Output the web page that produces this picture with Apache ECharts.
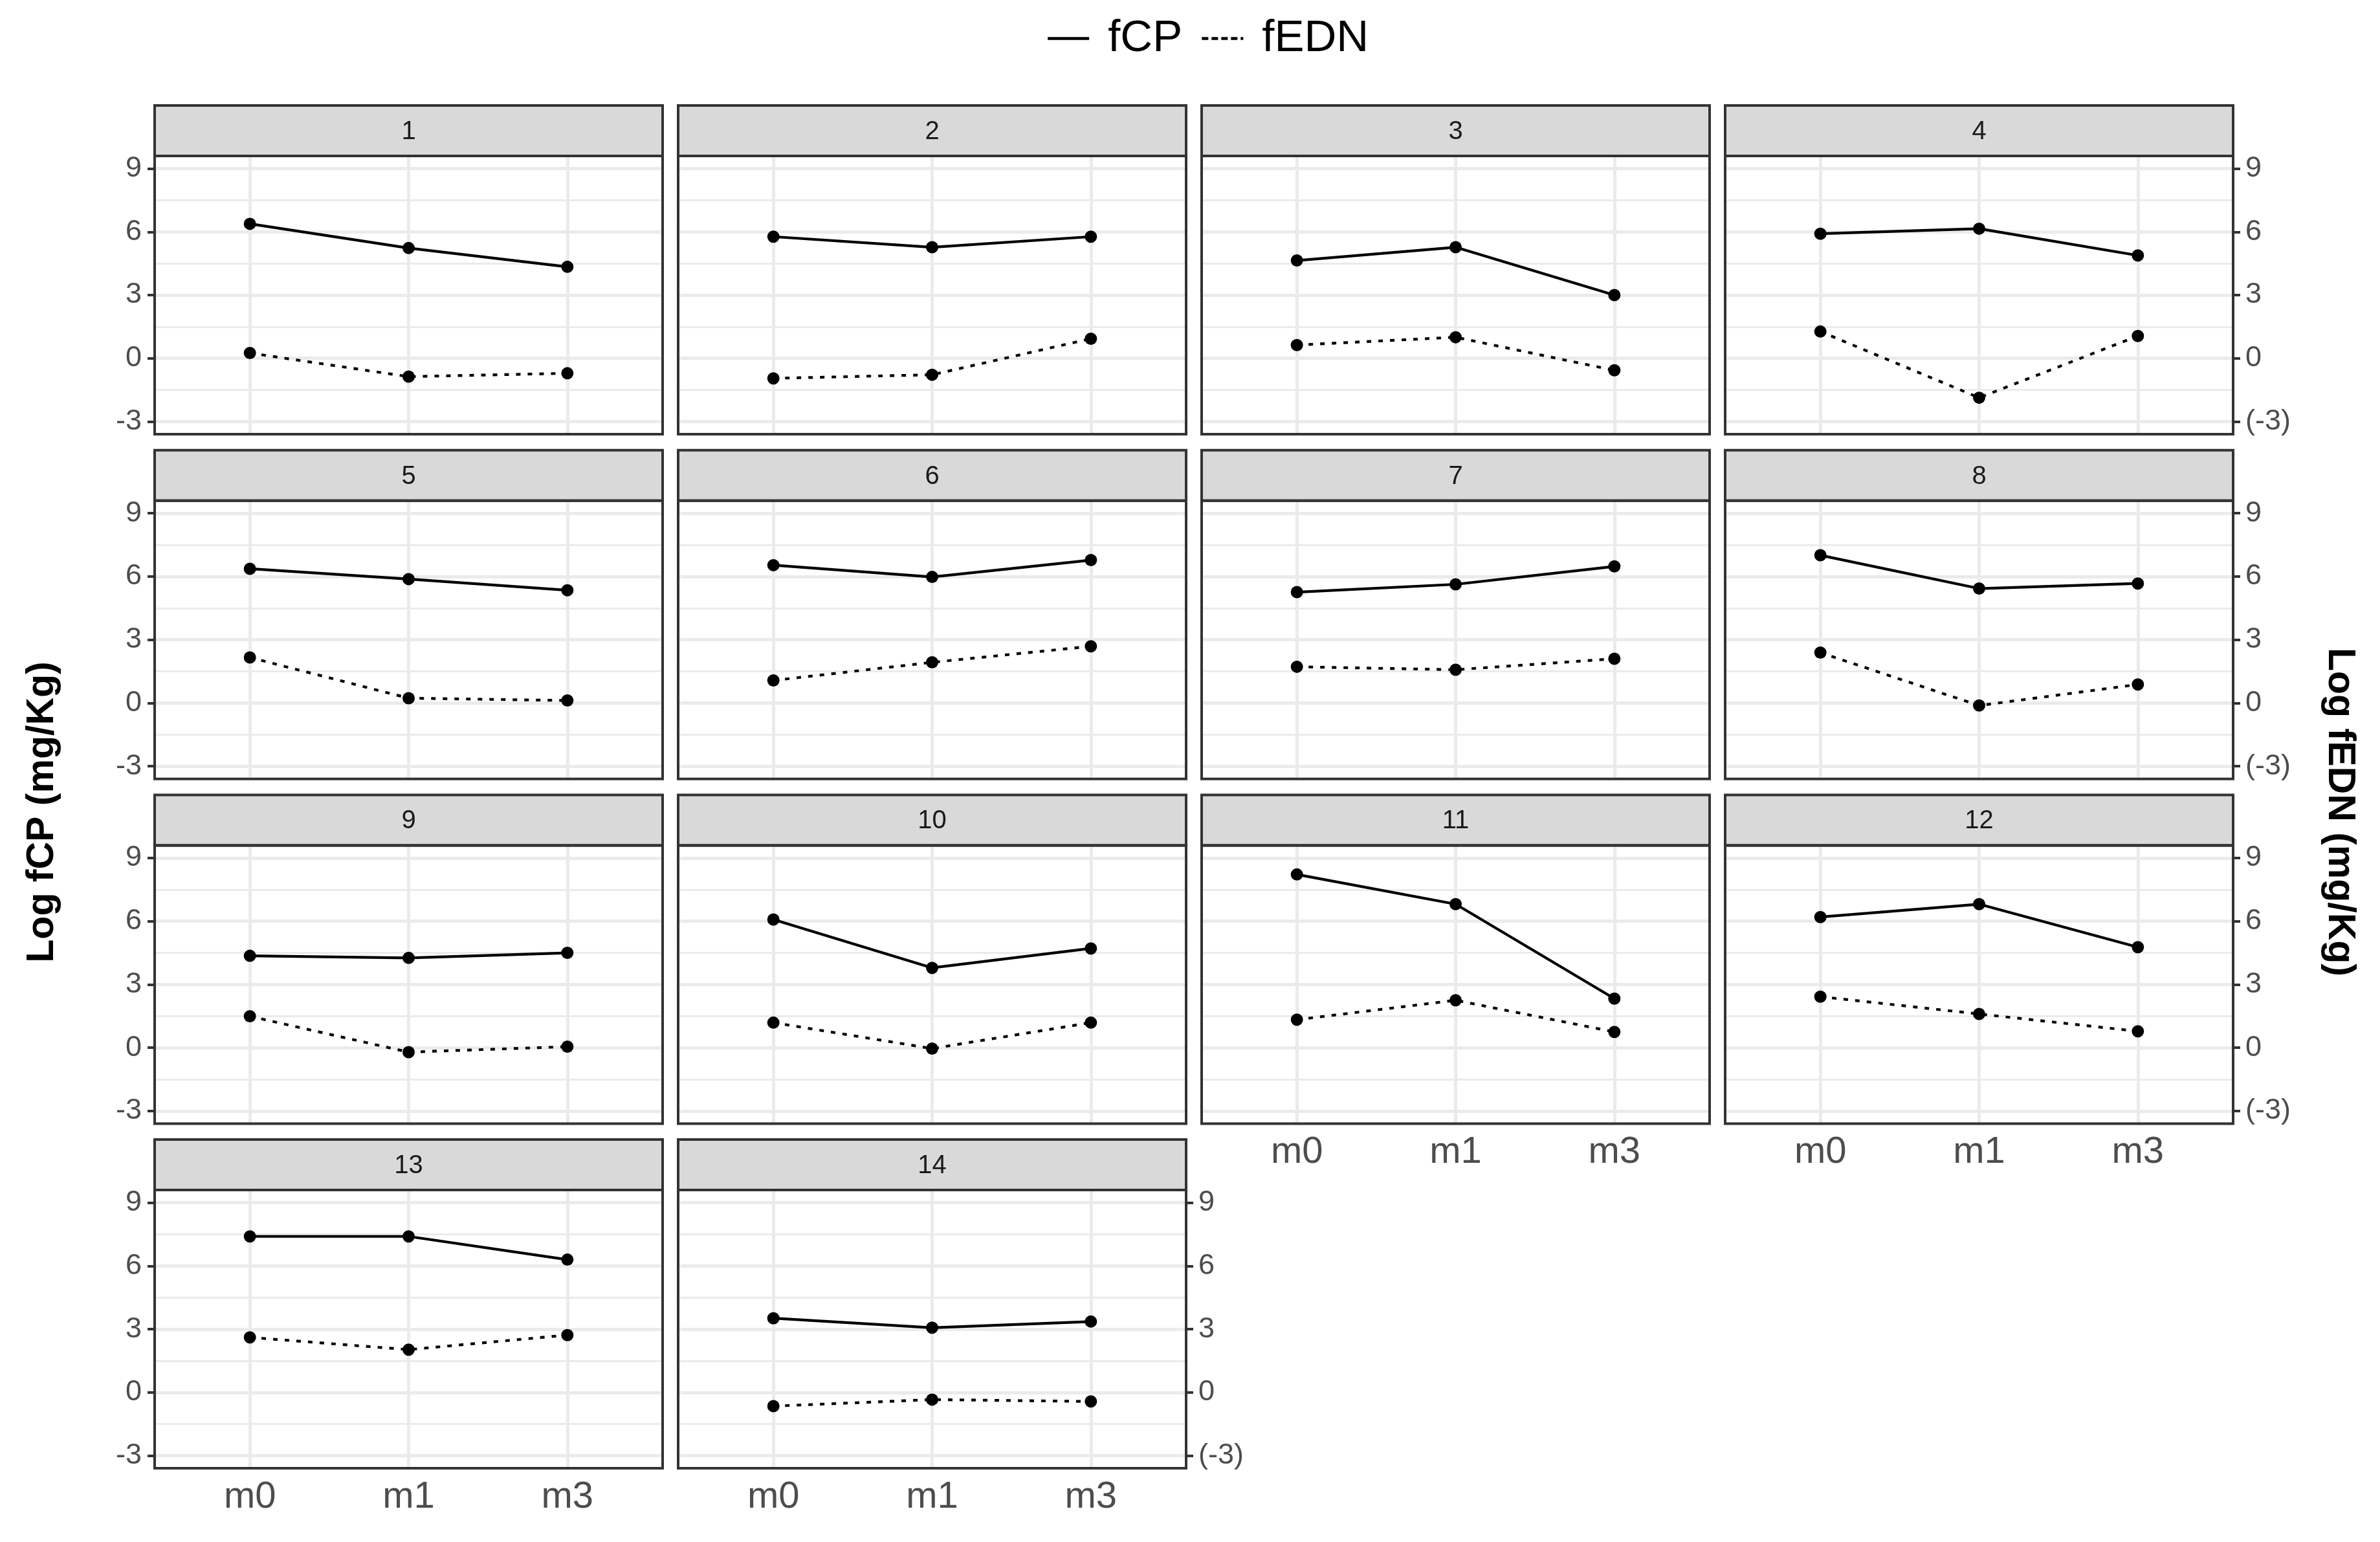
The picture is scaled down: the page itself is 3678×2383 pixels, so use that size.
<!DOCTYPE html>
<html>
<head>
<meta charset="utf-8">
<script src="https://cdn.jsdelivr.net/npm/echarts@6/dist/echarts.min.js"></script>
<style>
html,body{margin:0;padding:0;background:#fff;}
#chart{width:3678px;height:2383px;}
</style>
</head>
<body>
<div id="chart"></div>
<script>
// ---- data ----
const categories = ['m0', 'm1', 'm3'];
const panelLabels = ['1','2','3','4','5','6','7','8','9','10','11','12','13','14'];
const fCP = [
  [6.38, 5.23, 4.34],
  [5.77, 5.27, 5.77],
  [4.64, 5.27, 3.00],
  [5.91, 6.15, 4.88],
  [6.37, 5.88, 5.35],
  [6.54, 5.98, 6.78],
  [5.26, 5.63, 6.48],
  [7.01, 5.43, 5.67],
  [4.36, 4.26, 4.50],
  [6.08, 3.79, 4.71],
  [8.22, 6.81, 2.33],
  [6.20, 6.81, 4.77],
  [7.40, 7.40, 6.30],
  [3.52, 3.07, 3.36]
];
const fEDN = [
  [0.25, -0.87, -0.71],
  [-0.95, -0.78, 0.93],
  [0.63, 1.00, -0.57],
  [1.27, -1.87, 1.06],
  [2.16, 0.23, 0.12],
  [1.07, 1.93, 2.69],
  [1.72, 1.58, 2.10],
  [2.39, -0.12, 0.88],
  [1.49, -0.21, 0.05],
  [1.19, -0.04, 1.19],
  [1.33, 2.25, 0.75],
  [2.42, 1.60, 0.78],
  [2.61, 2.03, 2.72],
  [-0.65, -0.34, -0.43]
];
const yTicks = [-3, 0, 3, 6, 9];
const yMinorTicks = [-1.5, 1.5, 4.5, 7.5];
const seriesNames = ['fCP', 'fEDN'];
const leftTitle = 'Log fCP (mg/Kg)';
const rightTitle = 'Log fEDN (mg/Kg)';

// ---- layout ----
const FONT = '"Liberation Sans", Arial, sans-serif';
const NCOL = 4;
const colLeft = c => 239 + c * 809;
const PW = 785;
const rowTop = r => 163 + r * 532.7;
const STRIP_H = 78;
const PH = 430;
const Y_MIN = -3.6, Y_MAX = 9.6;
const X_MIN = 0.4, X_MAX = 3.6;
const xPos = categories.map((c, i) => i + 1);

const leftAxisPanels = [0, 4, 8, 12];
const rightAxisPanels = [3, 7, 11, 13];
const bottomAxisPanels = [10, 11, 12, 13];

const grids = [], xAxes = [], yAxes = [], series = [], graphics = [];

panelLabels.forEach((lab, i) => {
  const r = Math.floor(i / NCOL), c = i % NCOL;
  const L = colLeft(c), T = rowTop(r) + STRIP_H;
  grids.push({ left: L, top: T, width: PW, height: PH, show: false });

  const showX = bottomAxisPanels.includes(i);
  xAxes.push({
    gridIndex: i, type: 'value', min: X_MIN, max: X_MAX,
    axisLine: { show: false },
    splitLine: { show: false },
    axisTick: { show: showX, customValues: xPos, length: 11, lineStyle: { color: '#333333', width: 4 } },
    axisLabel: {
      show: showX, customValues: xPos, margin: 16,
      formatter: v => categories[Math.round(v) - 1] || '',
      fontSize: 58, color: '#4D4D4D', fontFamily: FONT
    }
  });

  const isLeft = leftAxisPanels.includes(i), isRight = rightAxisPanels.includes(i);
  yAxes.push({
    gridIndex: i, type: 'value', min: Y_MIN, max: Y_MAX,
    position: isRight ? 'right' : 'left',
    axisLine: { show: false },
    splitLine: { show: false },
    axisTick: { show: isLeft || isRight, customValues: yTicks, length: 11, lineStyle: { color: '#333333', width: 4 } },
    axisLabel: {
      show: isLeft || isRight, customValues: yTicks, margin: isRight ? 19 : 20,
      formatter: v => (isRight && v < 0) ? '(' + v + ')' : String(v),
      fontSize: 45, color: '#4D4D4D', fontFamily: FONT
    }
  });

  const gridLines = [];
  yTicks.forEach(v => gridLines.push({ yAxis: v, lineStyle: { width: 5 } }));
  yMinorTicks.forEach(v => gridLines.push({ yAxis: v, lineStyle: { width: 3 } }));
  xPos.forEach(v => gridLines.push({ xAxis: v, lineStyle: { width: 5 } }));

  series.push({
    name: seriesNames[0], type: 'line', xAxisIndex: i, yAxisIndex: i, z: 3,
    data: xPos.map((x, j) => [x, fCP[i][j]]),
    symbol: 'circle', symbolSize: 19,
    itemStyle: { color: '#000' },
    lineStyle: { color: '#000', width: 4.2, type: 'solid' },
    emphasis: { disabled: true },
    markLine: {
      silent: true, z: 1, symbol: ['none', 'none'], label: { show: false },
      lineStyle: { color: '#EBEBEB', type: 'solid' }, animation: false,
      emphasis: { disabled: true },
      data: gridLines
    }
  });
  series.push({
    name: seriesNames[1], type: 'line', xAxisIndex: i, yAxisIndex: i, z: 3,
    data: xPos.map((x, j) => [x, fEDN[i][j]]),
    symbol: 'circle', symbolSize: 19,
    itemStyle: { color: '#000' },
    lineStyle: { color: '#000', width: 4.2, type: [7, 11] },
    emphasis: { disabled: true }
  });

  // strip
  graphics.push({
    type: 'rect', z: 10,
    shape: { x: L, y: rowTop(r), width: PW, height: STRIP_H },
    style: { fill: '#D9D9D9', stroke: '#333333', lineWidth: 4 }
  });
  graphics.push({
    type: 'text', z: 11, x: L + PW / 2, y: rowTop(r) + STRIP_H / 2 + 2,
    style: { text: lab, fill: '#1A1A1A', font: '40px ' + FONT, align: 'center', verticalAlign: 'middle' }
  });
  // panel border
  graphics.push({
    type: 'rect', z: 10,
    shape: { x: L, y: T, width: PW, height: PH },
    style: { fill: 'none', stroke: '#333333', lineWidth: 4 }
  });
});

graphics.push({
  type: 'text', z: 11, x: 66, y: 1255, rotation: Math.PI / 2,
  style: { text: leftTitle, fill: '#000', font: 'bold 59px ' + FONT, align: 'center', verticalAlign: 'middle' }
});
graphics.push({
  type: 'text', z: 11, x: 3615, y: 1255, rotation: -Math.PI / 2,
  style: { text: rightTitle, fill: '#000', font: 'bold 59px ' + FONT, align: 'center', verticalAlign: 'middle' }
});

const chart = echarts.init(document.getElementById('chart'), null, { renderer: 'canvas' });
chart.setOption({
  animation: false,
  backgroundColor: '#fff',
  legend: {
    data: [
      { name: seriesNames[0] },
      { name: seriesNames[1], lineStyle: { type: [10, 5] } }
    ],
    left: 1612, top: 20,
    itemWidth: 64, itemHeight: 4, itemGap: 28,
    itemStyle: { opacity: 0 },
    lineStyle: { width: 4.3, color: '#000' },
    textStyle: { fontSize: 69, color: '#000', fontFamily: FONT, padding: [0, 0, 0, 24] },
    selectedMode: false
  },
  grid: grids,
  xAxis: xAxes,
  yAxis: yAxes,
  series: series,
  graphic: graphics
});
</script>
</body>
</html>
